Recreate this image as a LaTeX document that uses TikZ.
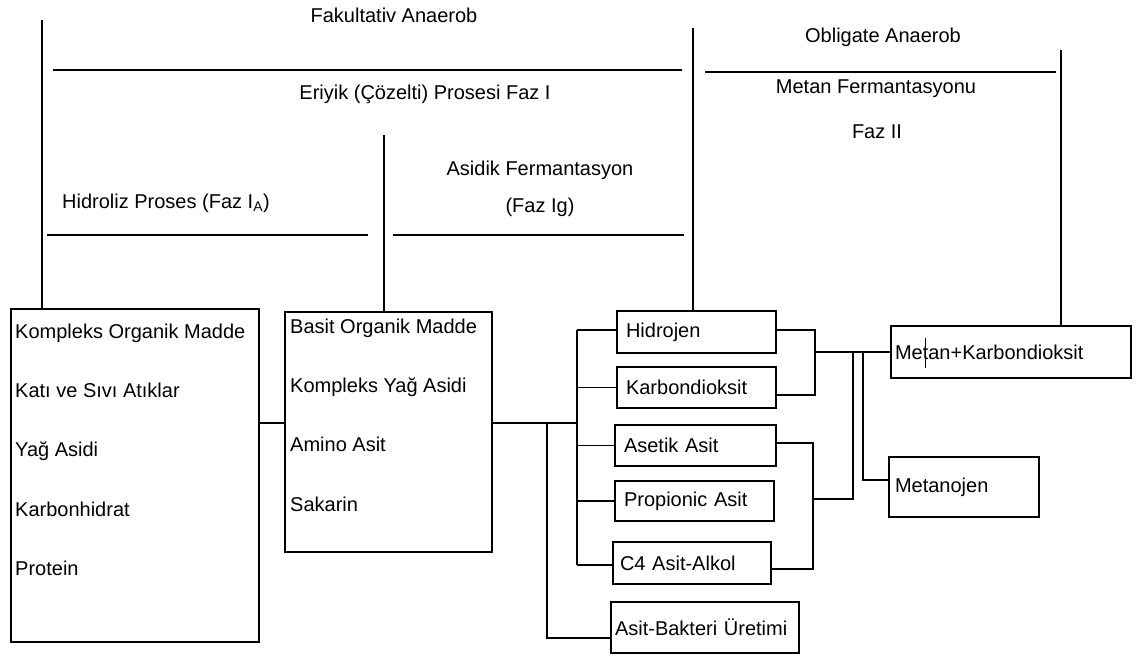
\documentclass[tikz,border=0pt]{standalone}
\usepackage{fontspec}
\setmainfont{Liberation Sans}

\begin{document}
\begin{tikzpicture}[x=1pt,y=-1pt,
  every node/.style={font=\fontsize{20}{24}\selectfont},
  kutu/.style={draw,line width=1.6pt,rectangle,align=left,inner xsep=9pt,inner ysep=0pt},
  liste/.style={align=left,inner sep=0pt,anchor=north west,font=\fontsize{20}{59.3}\selectfont},
  baslik/.style={inner sep=0pt},
  hat/.style={line width=1.6pt}]
\useasboundingbox (0,0) rectangle (1139,657);

% basliklar
\node[baslik] (fak) at (394,15) {Fakultativ Anaerob};
\node[baslik] (eri) at (425,94) {Eriyik (Çözelti) Prosesi Faz I};
\node[baslik] (hidr) at (166,203) {Hidroliz Proses (Faz I\textsubscript{A})};
\node[baslik] (asi) at (540,170) {Asidik Fermantasyon};
\node[baslik] (fazig) at (540,207) {(Faz Ig)};
\node[baslik] (obl) at (883,37) {Obligate Anaerob};
\node[baslik] (mf) at (876,89) {Metan Fermantasyonu};
\node[baslik] (faz2) at (877,132) {Faz II};

% kutular
\node[kutu,minimum width=248pt,minimum height=333pt] (k1) at (135,475.5) {};
\node[liste] (k1l) at (15,323.4) {Kompleks Organik Madde\\Katı ve Sıvı Atıklar\\Yağ Asidi\\Karbonhidrat\\Protein};
\node[kutu,minimum width=207pt,minimum height=240pt] (k2) at (388.5,432) {};
\node[liste] (k2l) at (290,318.4) {Basit Organik Madde\\Kompleks Yağ Asidi\\Amino Asit\\Sakarin};

\node[kutu,minimum height=42pt,text width=141pt] (hid) at (696.5,332) {Hidrojen};
\node[kutu,minimum height=41pt,text width=141pt] (karb) at (696.5,387.5) {Karbondioksit};
\node[kutu,minimum height=41pt,text width=143pt] (aset) at (695.5,445.5) {Asetik Asit};
\node[kutu,minimum height=40pt,text width=141pt] (prop) at (694.5,501) {Propionic Asit};
\node[kutu,minimum height=42pt,inner xsep=7pt,text width=144pt] (c4) at (692,563) {C4 Asit-Alkol};
\node[kutu,minimum height=51pt,inner xsep=4pt,text width=180pt] (bakt) at (705,627.5) {Asit-Bakteri Üretimi};
\node[kutu,minimum height=52pt,inner xsep=4pt,text width=232pt] (metan) at (1011,352) {Metan+Karbondioksit};
\node[kutu,minimum height=60pt,inner xsep=6pt,text width=138pt] (mtnj) at (964,487) {Metanojen};
\draw[line width=1pt] (925,338) -- (925,368);

% faz cizgileri
\draw[hat] (53,70) -- (682,70);
\draw[hat] (705,72) -- (1056,72);
\draw[hat] (47,235) -- (368,235);
\draw[hat] (393,235) -- (684,235);
\coordinate (s1) at (42,20);
\coordinate (s2) at (384,135);
\coordinate (s3) at (693,28);
\coordinate (s4) at (1061,50);
\draw[hat] (s1) -- (s1 |- k1.north);
\draw[hat] (s2) -- (s2 |- k2.north);
\draw[hat] (s3) -- (s3 |- hid.north);
\draw[hat] (s4) -- (s4 |- metan.north);

% baglantilar
\coordinate (y1) at (0,423);
\coordinate (t1) at (577,330);
\coordinate (t2) at (577,565);
\coordinate (u1) at (547,423);
\coordinate (u2) at (547,638);
\draw[hat] (k1.east |- y1) -- (k2.west |- y1);
\draw[hat] (k2.east |- y1) -- (t1 |- y1);
\draw[hat] (t1) -- (t2);
\draw[hat] (t1) -- (t1 -| hid.west);
\draw[hat] (t1 |- karb.west) -- (karb.west);
\draw[hat] (t1 |- aset.west) -- (aset.west);
\draw[hat] (t1 |- prop.west) -- (prop.west);
\draw[hat] (t2) -- (t2 -| c4.west);
\draw[hat] (u1) -- (u2) -- (u2 -| bakt.west);

\coordinate (r1) at (815,330);
\coordinate (r2) at (815,395);
\coordinate (r3) at (815,352);
\coordinate (r4) at (813,443);
\coordinate (r5) at (813,569);
\coordinate (m1) at (853,352);
\coordinate (m2) at (853,499);
\coordinate (n1) at (863,353);
\coordinate (n2) at (863,480);
\draw[hat] (hid.east |- r1) -- (r1) -- (r2) -- (r2 -| karb.east);
\draw[hat] (r3) -- (r3 -| metan.west);
\draw[hat] (aset.east |- r4) -- (r4) -- (r5) -- (r5 -| c4.east);
\draw[hat] (m1) -- (m2) -- (m2 -| r4);
\draw[hat] (n1) -- (n2) -- (n2 -| mtnj.west);
\end{tikzpicture}
\end{document}
